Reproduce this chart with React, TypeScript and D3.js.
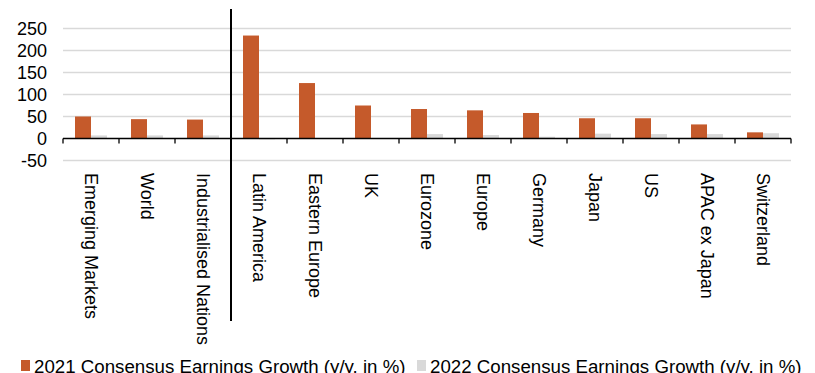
import React from "react";
import * as d3 from "d3";

const categories = [
  "Emerging Markets",
  "World",
  "Industrialised Nations",
  "Latin America",
  "Eastern Europe",
  "UK",
  "Eurozone",
  "Europe",
  "Germany",
  "Japan",
  "US",
  "APAC ex Japan",
  "Switzerland",
];
const series = [
  "2021 Consensus Earnings Growth (y/y, in %)",
  "2022 Consensus Earnings Growth (y/y, in %)",
];
const values2021 = [50, 44, 43, 234, 126, 75, 67, 64, 58, 46, 46, 32, 14];
const values2022 = [7, 7, 7, -2, 0.5, 1, 10, 8, 4, 11, 10, 10, 12];
const yTicks = [-50, 0, 50, 100, 150, 200, 250];
const colors = ["#C55A2B", "#D9D9D9"];

const W = 815;
const H = 373;
const FONT = "'Liberation Sans', Arial, sans-serif";

export default function App() {
  const x0 = d3.scaleBand<string>().domain(categories).range([63, 791]).padding(0);
  const x1 = d3
    .scaleBand<string>()
    .domain(series)
    .range([0, x0.bandwidth()])
    .paddingInner(0)
    .paddingOuter(0.75);
  const y = d3.scaleLinear().domain([-50, 250]).range([160.5, 28.5]);
  const data = [values2021, values2022];
  const y0 = y(0);
  const dividerX = x0(categories[3]) as number;

  return (
    <svg
      width={W}
      height={H}
      style={{ position: "absolute", left: 0, top: 0 }}
      fontFamily={FONT}
    >
      <rect width={W} height={H} fill="#fff" />
      {yTicks.map((t) =>
        t === 0 ? null : (
          <line
            key={"g" + t}
            x1={63}
            x2={791}
            y1={y(t)}
            y2={y(t)}
            stroke="#D9D9D9"
            strokeWidth={1.3}
          />
        )
      )}
      {yTicks.map((t) => (
        <text
          key={"t" + t}
          x={47}
          y={y(t)}
          textAnchor="end"
          dominantBaseline="central"
          fontSize={18}
          fill="#000"
        >
          {t}
        </text>
      ))}
      {categories.map((c, i) =>
        data.map((vals, s) => {
          const v = vals[i];
          const bx = (x0(c) as number) + (x1(series[s]) as number);
          const top = Math.min(y(v), y0);
          const h = Math.abs(y(v) - y0);
          return (
            <rect
              key={c + s}
              x={bx}
              y={top}
              width={x1.bandwidth()}
              height={h}
              fill={colors[s]}
            />
          );
        })
      )}
      <line x1={63} x2={791} y1={y0} y2={y0} stroke="#000" strokeWidth={1.3} />
      {[...categories.map((c) => x0(c) as number), 791].map((xx, i) => (
        <line
          key={"tk" + i}
          x1={xx}
          x2={xx}
          y1={y0}
          y2={y0 + 5}
          stroke="#000"
          strokeWidth={1.3}
        />
      ))}
      <line
        x1={dividerX}
        x2={dividerX}
        y1={9}
        y2={321}
        stroke="#000"
        strokeWidth={2}
      />
      {categories.map((c) => {
        const cx = (x0(c) as number) + x0.bandwidth() / 2;
        return (
          <text
            key={"l" + c}
            transform={`translate(${cx},173) rotate(90)`}
            dominantBaseline="central"
            fontSize={18}
            fill="#000"
          >
            {c}
          </text>
        );
      })}
      {series.map((s, i) => {
        const lx = i === 0 ? 21 : 417;
        return (
          <g key={"lg" + i}>
            <rect x={lx} y={360} width={9} height={11} fill={colors[i]} />
            <text x={lx + 13} y={373} fontSize={18.7} fill="#000">
              {s}
            </text>
          </g>
        );
      })}
    </svg>
  );
}
